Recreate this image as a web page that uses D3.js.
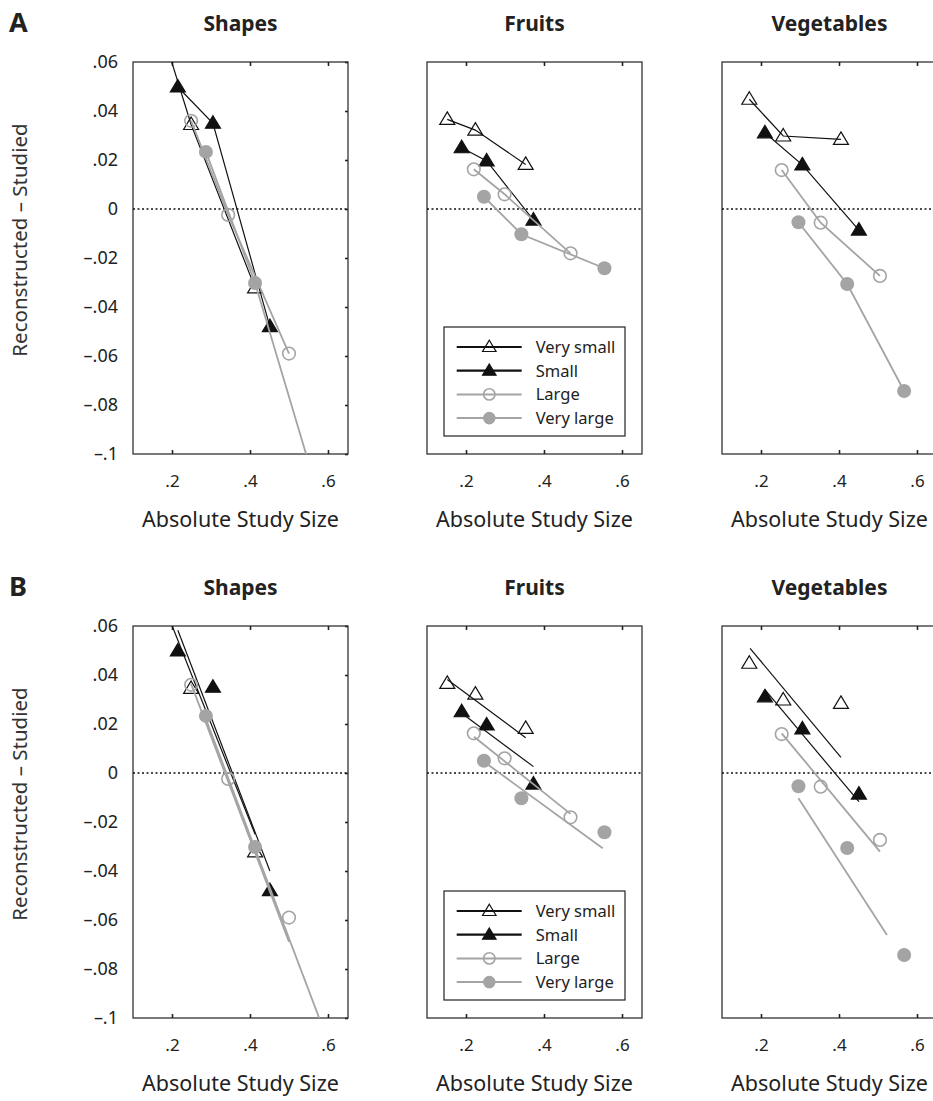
<!DOCTYPE html>
<html>
<head>
<meta charset="utf-8">
<script src="https://cdn.jsdelivr.net/npm/d3@7"></script>
<style>
  body { margin: 0; background: #fff; }
  svg { display: block; font-family: "Noto Sans", "Open Sans", sans-serif; }
</style>
</head>
<body>
<div id="chart"></div>
<script>
// Data
const categories = ["Shapes", "Fruits", "Vegetables"]
const sizeLabels = ["Very small", "Small", "Large", "Very large"]
const rowLabels = ["A", "B"]

// x = absolute study size, y = reconstructed - studied; one inner array per size series
const shapesX = [[0.17, 0.249, 0.413], [0.215, 0.305, 0.451], [0.249, 0.344, 0.5], [0.287, 0.413, 0.6]]
const shapesY = [[0.075, 0.0345, -0.0322], [0.0498, 0.035, -0.048], [0.036, -0.0024, -0.059], [0.0233, -0.0302, -0.13]]
const fruitsX = [[0.152, 0.224, 0.353], [0.189, 0.253, 0.373], [0.22, 0.299, 0.468], [0.246, 0.342, 0.555]]
const fruitsY = [[0.0366, 0.0322, 0.0182], [0.025, 0.0196, -0.0045], [0.0162, 0.006, -0.0181], [0.005, -0.0103, -0.0242]]
const vegetablesX = [[0.17, 0.257, 0.405], [0.21, 0.306, 0.451], [0.253, 0.353, 0.505], [0.296, 0.421, 0.567]]
const vegetablesY = [[0.0448, 0.0298, 0.0284], [0.0311, 0.018, -0.0086], [0.0159, -0.0056, -0.0273], [-0.0054, -0.0306, -0.0743]]

// panel B fitted lines, start and end of each series' line
const shapesFitX = [[0.17, 0.413], [0.215, 0.451], [0.249, 0.5], [0.287, 0.6]]
const shapesFitY = [[0.0722, -0.025], [0.0583, -0.04], [0.0364, -0.069], [0.022, -0.1095]]
const fruitsFitX = [[0.152, 0.353], [0.189, 0.373], [0.2205, 0.468], [0.246, 0.5505]]
const fruitsFitY = [[0.0382, 0.0144], [0.0244, 0.0026], [0.0148, -0.0167], [0.0046, -0.0307]]
const vegetablesFitX = [[0.172, 0.405], [0.21, 0.451], [0.253, 0.505], [0.296, 0.523]]
const vegetablesFitY = [[0.0509, 0.0064], [0.034, -0.0117], [0.0162, -0.0321], [-0.0103, -0.0661]]

const xTicks = [0.2, 0.4, 0.6]
const xTickLabels = [".2", ".4", ".6"]
const yTicks = [0.06, 0.04, 0.02, 0, -0.02, -0.04, -0.06, -0.08, -0.1]
const yTickLabels = [".06", ".04", ".02", "0", "\u2013.02", "\u2013.04", "\u2013.06", "\u2013.08", "\u2013.1"]

const panelX = [shapesX, fruitsX, vegetablesX]
const panelY = [shapesY, fruitsY, vegetablesY]
const panelFitX = [shapesFitX, fruitsFitX, vegetablesFitX]
const panelFitY = [shapesFitY, fruitsFitY, vegetablesFitY]

// layout
const width = 933
const height = 1101
const panelW = 215
const panelH = 392
const colLeft = [133, 427, 722]
const rowTop = [62, 626]
const xDomain = [0.1, 0.1 + panelW / 390]
const yDomain = [-0.1, 0.06]

const gray = "#a4a4a4"
const seriesStyle = [
    { shape: "tri", fill: "none", stroke: "#111", line: "#111", lw: 1.2 },
    { shape: "tri", fill: "#111", stroke: "#111", line: "#111", lw: 1.2 },
    { shape: "circ", fill: "none", stroke: gray, line: gray, lw: 1.8 },
    { shape: "circ", fill: gray, stroke: gray, line: gray, lw: 1.8 }
]

const triPath = (w, h) => `M0,${-h * 0.6}L${w / 2},${h * 0.4}L${-w / 2},${h * 0.4}Z`

const svg = d3.select("#chart").append("svg")
    .attr("width", width)
    .attr("height", height)

function drawMarker(g, style, cx, cy, scale) {
    if (style.shape == "tri") {
        g.append("path")
            .attr("d", triPath(15 * scale, 12.5 * scale))
            .attr("transform", `translate(${cx},${cy})`)
            .attr("fill", style.fill)
            .attr("stroke", style.stroke)
            .attr("stroke-width", 1.2)
    } else {
        g.append("circle")
            .attr("cx", cx)
            .attr("cy", cy)
            .attr("r", (style.fill == "none" ? 6.3 : 7) * scale)
            .attr("fill", style.fill)
            .attr("stroke", style.stroke)
            .attr("stroke-width", style.fill == "none" ? 1.6 : 0)
    }
}

rowTop.forEach((top, r) => {
    svg.append("text")
        .attr("x", 9)
        .attr("y", top - 30)
        .attr("font-size", 27)
        .attr("font-weight", "bold")
        .attr("fill", "#222")
        .text(rowLabels[r])

    svg.append("text")
        .attr("transform", `translate(27,${top + 178}) rotate(-90)`)
        .attr("text-anchor", "middle")
        .attr("font-size", 20.5)
        .attr("fill", "#333")
        .text("Reconstructed \u2013 Studied")

    categories.forEach((cat, c) => {
        const left = colLeft[c]
        const xScale = d3.scaleLinear().domain(xDomain).range([left, left + panelW])
        const yScale = d3.scaleLinear().domain(yDomain).range([top + panelH, top])

        const panel = svg.append("g")
        const clipId = `clip-${r}-${c}`
        panel.append("defs").append("clipPath")
            .attr("id", clipId)
            .append("rect")
            .attr("x", left)
            .attr("y", top)
            .attr("width", panelW)
            .attr("height", panelH)

        // title
        panel.append("text")
            .attr("x", left + panelW / 2)
            .attr("y", top - 31)
            .attr("text-anchor", "middle")
            .attr("font-size", 21)
            .attr("font-weight", "bold")
            .attr("fill", "#222")
            .text(cat)

        // frame
        panel.append("rect")
            .attr("x", left)
            .attr("y", top)
            .attr("width", panelW)
            .attr("height", panelH)
            .attr("fill", "none")
            .attr("stroke", "#333")
            .attr("stroke-width", 1.3)

        // x ticks, top and bottom, pointing inward
        const xTop = panel.append("g")
            .attr("transform", `translate(0,${top})`)
            .call(d3.axisTop(xScale).tickValues(xTicks).tickSize(-4).tickFormat(""))
        const xBottom = panel.append("g")
            .attr("transform", `translate(0,${top + panelH})`)
            .call(d3.axisBottom(xScale).tickValues(xTicks).tickSize(-4).tickPadding(21)
                .tickFormat((d, i) => xTickLabels[i]))
        ;[xTop, xBottom].forEach(a => {
            a.select(".domain").remove()
            a.selectAll("line").attr("stroke", "#222").attr("stroke-width", 1.6)
        })
        xBottom.selectAll("text")
            .attr("font-size", 17)
            .attr("fill", "#222")
            .attr("font-family", "Noto Sans")

        panel.append("text")
            .attr("x", left + panelW / 2)
            .attr("y", top + panelH + 73)
            .attr("text-anchor", "middle")
            .attr("font-size", 21.5)
            .attr("fill", "#222")
            .text("Absolute Study Size")

        if (c == 0) {
            const yRight = panel.append("g")
                .attr("transform", `translate(${left + panelW},0)`)
                .call(d3.axisRight(yScale).tickValues(yTicks).tickSize(-3).tickFormat(""))
            yRight.select(".domain").remove()
            yRight.selectAll("line").attr("stroke", "#222").attr("stroke-width", 1.6)

            const yLeft = panel.append("g")
                .attr("transform", `translate(${left},0)`)
                .call(d3.axisLeft(yScale).tickValues(yTicks).tickSize(0).tickPadding(15)
                    .tickFormat((d, i) => yTickLabels[i]))
            yLeft.select(".domain").remove()
            yLeft.selectAll("text")
                .attr("font-size", 18)
                .attr("fill", "#222")
                .attr("font-family", "Noto Sans")
        }

        const plot = panel.append("g").attr("clip-path", `url(#${clipId})`)

        // zero reference
        plot.append("line")
            .attr("x1", left)
            .attr("x2", left + panelW)
            .attr("y1", yScale(0))
            .attr("y2", yScale(0))
            .attr("stroke", "#111")
            .attr("stroke-width", 1.6)
            .attr("stroke-dasharray", "2,2.5")

        const xs = panelX[c]
        const ys = panelY[c]
        const lineGenerator = d3.line()
            .x(d => xScale(d[0]))
            .y(d => yScale(d[1]))

        sizeLabels.forEach((lab, s) => {
            const style = seriesStyle[s]
            const pts = xs[s].map((v, i) => [v, ys[s][i]])
            // A: connected means, B: fitted lines
            const linePts = r == 0
                ? pts
                : panelFitX[c][s].map((v, i) => [v, panelFitY[c][s][i]])
            plot.append("path")
                .attr("d", lineGenerator(linePts))
                .attr("fill", "none")
                .attr("stroke", style.line)
                .attr("stroke-width", style.lw)
            pts.forEach(p => drawMarker(plot, style, xScale(p[0]), yScale(p[1]), 1))
        })

        // legend in the Fruits panel
        if (c == 1) {
            const lg = panel.append("g")
            const lx = 444
            const ly = top + 265
            lg.append("rect")
                .attr("x", lx)
                .attr("y", ly)
                .attr("width", 181)
                .attr("height", 109)
                .attr("fill", "#fff")
                .attr("stroke", "#222")
                .attr("stroke-width", 1.2)
            sizeLabels.forEach((lab, s) => {
                const style = seriesStyle[s]
                const yy = ly + 20 + s * 23.7
                lg.append("line")
                    .attr("x1", lx + 12.7)
                    .attr("x2", lx + 77.7)
                    .attr("y1", yy)
                    .attr("y2", yy)
                    .attr("stroke", style.line)
                    .attr("stroke-width", s < 2 ? 2.2 : 2)
                drawMarker(lg, style, lx + 45.3, yy, 0.9)
                lg.append("text")
                    .attr("x", lx + 91.7)
                    .attr("y", yy + 6)
                    .attr("font-size", 16.5)
                    .attr("fill", "#222")
                    .text(lab)
            })
        }
    })
})
</script>
</body>
</html>
